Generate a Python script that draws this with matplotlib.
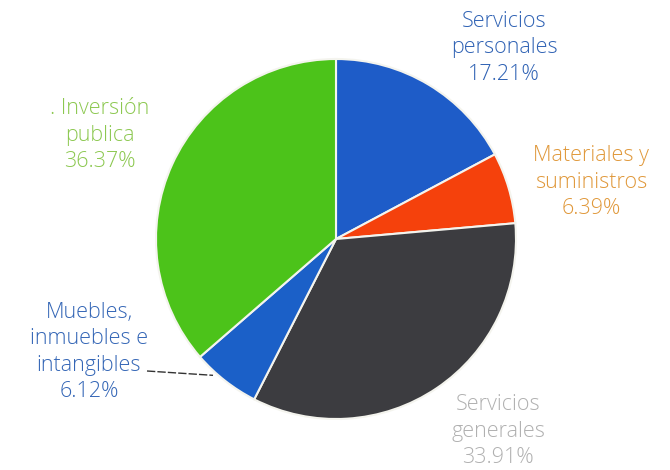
import matplotlib.pyplot as plt
import numpy as np

# Data
labels = ["Servicios\npersonales", "Materiales y\nsuministros", "Servicios\ngenerales",
          "Muebles,\ninmuebles e\nintangibles", ". Inversión\npublica"]
shares = [17.21, 6.39, 33.91, 6.12, 36.37]
colors = ["#1e5cc8", "#f5410c", "#3c3c40", "#1b60c8", "#4cc31a"]
text_colors = ["#2f62b4", "#e0983a", "#b0b0b0", "#3466b6", "#8cc850"]

fig = plt.figure(figsize=(6.7, 4.7), dpi=100)
ax = fig.add_axes([0, 0, 1, 1])
H = 470

cx, cy, r = 336, H - 239, 180
wedges, _ = ax.pie(shares, colors=colors, startangle=90, counterclock=False,
                   center=(cx, cy), radius=r,
                   wedgeprops=dict(edgecolor="#f4f4ee", linewidth=1.5))

# label positions (pixel coords from top-left)
label_pos = [(504, 48), (591, 182), (498, 431), (89, 352), (100, 135)]
for lab, s, (x, y), tc in zip(labels, shares, label_pos, text_colors):
    ax.text(x, H - y, f"{lab}\n{s:.2f}%", ha="center", va="center",
            color=tc, fontsize=15.5, family="Open Sans", weight="light",
            linespacing=1.35)

# leader line for Muebles
ang = np.deg2rad(90 - 3.6 * (shares[0] + shares[1] + shares[2] + shares[3] / 2) - 4)
px, py = cx + r * 1.02 * np.cos(ang), cy + r * 1.02 * np.sin(ang)
ax.plot([147, px], [H - 371, py], color="#333333", lw=1, ls=(0, (6, 1.5)))

ax.set_xlim(0, 670)
ax.set_ylim(0, H)
ax.set_aspect("equal")
ax.axis("off")

fig.savefig("out.png", dpi=100)
